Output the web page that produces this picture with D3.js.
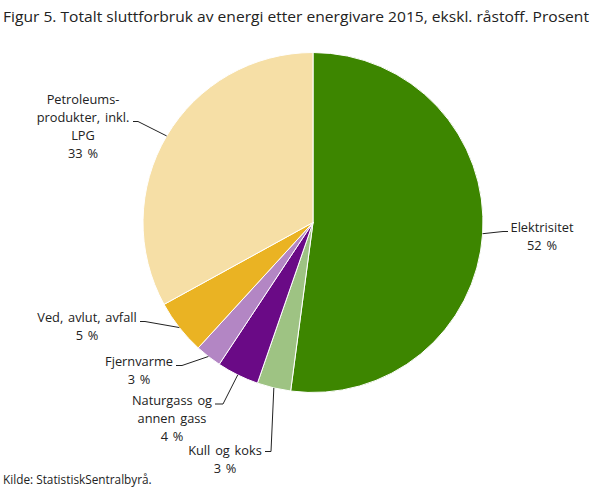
<!DOCTYPE html>
<html lang="no">
<head>
<meta charset="UTF-8">
<title>Figur 5</title>
<script src="https://d3js.org/d3.v7.min.js"></script>
<style>
  body { margin: 0; background: #fff; }
  text { font-family: "Open Sans", sans-serif; fill: #222; }
</style>
</head>
<body>
<div id="chart"></div>
<script>
// data, clockwise from 12 o'clock
const categories = ["Elektrisitet", "Kull og koks", "Naturgass og annen gass", "Fjernvarme", "Ved, avlut, avfall", "Petroleumsprodukter, inkl. LPG"];
const values = [52.1, 3.2, 4.0, 2.5, 5.2, 33.0];
const colors = ["#3d8600", "#9ec383", "#6a0a86", "#b386c4", "#eab323", "#f6dfa6"];

// label placement (wrapped lines, centre x, first baseline, connector y, connector end / bend x)
const labelLayout = [
  { lines: ["Elektrisitet"], cx: 542, y: 232, ly: 231.5, endX: 508, bendX: 503 },
  { lines: ["Kull og koks"], cx: 225, y: 455, ly: 451.5, endX: 265, bendX: 271 },
  { lines: ["Naturgass og", "annen gass"], cx: 172, y: 404.5, ly: 404, endX: 215, bendX: 223 },
  { lines: ["Fjernvarme"], cx: 139, y: 366, ly: 365.5, endX: 176, bendX: 182 },
  { lines: ["Ved, avlut, avfall"], cx: 87, y: 322, ly: 321.5, endX: 140, bendX: 145 },
  { lines: ["Petroleums-", "produkter, inkl.", "LPG"], cx: 83, y: 104, ly: 121.5, endX: 133, bendX: 138 }
];

const W = 608, H = 489;
const cx = 313, cy = 222.5, R = 170;

const svg = d3.select("#chart").append("svg")
    .attr("width", W)
    .attr("height", H);

// title
svg.append("text")
    .attr("x", 3)
    .attr("y", 22)
    .attr("font-size", "15px")
    .attr("textLength", 586)
    .attr("lengthAdjust", "spacingAndGlyphs")
    .text("Figur 5. Totalt sluttforbruk av energi etter energivare 2015, ekskl. råstoff. Prosent");

const pie = d3.pie().sort(null).value(d => d);
const arcs = pie(values);
const arc = d3.arc().innerRadius(0).outerRadius(R);

const g = svg.append("g").attr("transform", `translate(${cx},${cy})`);

g.selectAll("path.slice")
    .data(arcs)
    .enter()
    .append("path")
        .attr("class", "slice")
        .attr("d", arc)
        .attr("fill", (d, i) => colors[i])
        .attr("stroke", "#fff")
        .attr("stroke-width", 1)
        .attr("stroke-linejoin", "round");

// connectors: from edge at the slice's middle angle to the label
arcs.forEach(function (d, i) {
    const L = labelLayout[i];
    const mid = (d.startAngle + d.endAngle) / 2;
    const ex = cx + R * Math.sin(mid);
    const ey = cy - R * Math.cos(mid);
    svg.append("path")
        .attr("d", d3.line()([[ex, ey], [L.bendX, L.ly], [L.endX, L.ly]]))
        .attr("fill", "none")
        .attr("stroke", "#222")
        .attr("stroke-width", 1);

    const t = svg.append("text")
        .attr("text-anchor", "middle")
        .attr("font-size", "12.8px")
        .attr("word-spacing", "1.5px");
    const lines = L.lines.concat([Math.round(values[i]) + " %"]);
    lines.forEach(function (s, k) {
        t.append("tspan")
            .attr("x", L.cx)
            .attr("y", L.y + k * 18)
            .text(s);
    });
});

// source
svg.append("text")
    .attr("x", 3)
    .attr("y", 484)
    .attr("font-size", "11.8px")
    .text("Kilde: StatistiskSentralbyrå.");
</script>
</body>
</html>
